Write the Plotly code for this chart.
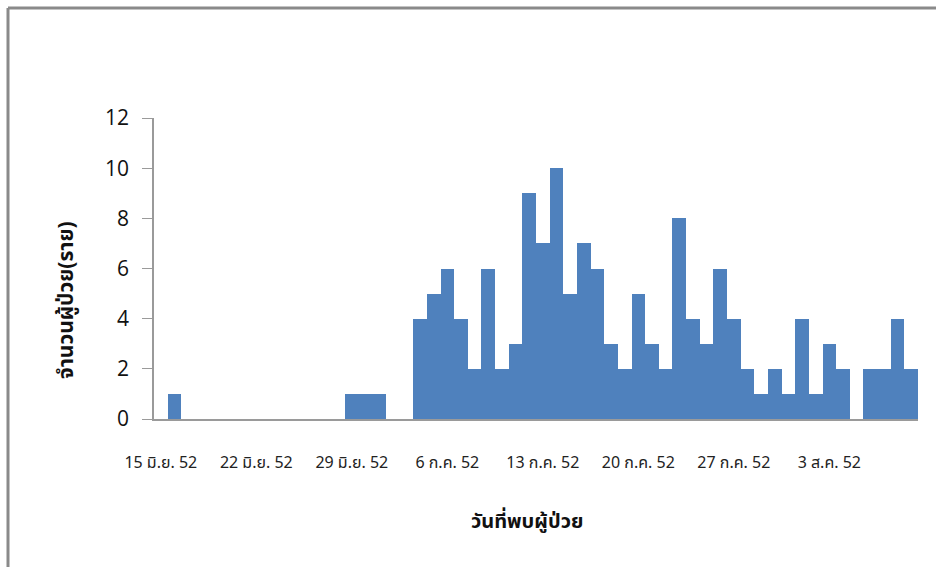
import datetime as dt
import plotly.graph_objects as go

# Daily case counts, 15 Jun 2552 (2009) to 9 Aug 2552
start_date = dt.date(2009, 6, 15)
daily_cases = [
    0, 1, 0, 0, 0, 0, 0,          # 15-21 Jun
    0, 0, 0, 0, 0, 0, 0,          # 22-28 Jun
    1, 1, 1, 0, 0, 4, 5,          # 29 Jun - 5 Jul
    6, 4, 2, 6, 2, 3, 9,          # 6-12 Jul
    7, 10, 5, 7, 6, 3, 2,         # 13-19 Jul
    5, 3, 2, 8, 4, 3, 6,          # 20-26 Jul
    4, 2, 1, 2, 1, 4, 1,          # 27 Jul - 2 Aug
    3, 2, 0, 2, 2, 4, 2,          # 3-9 Aug
]
dates = [start_date + dt.timedelta(days=i) for i in range(len(daily_cases))]

# Weekly tick labels (Thai Buddhist-era short dates)
tick_dates = [start_date + dt.timedelta(days=7 * i) for i in range(8)]
tick_labels = [
    "15 มิ.ย. 52", "22 มิ.ย. 52", "29 มิ.ย. 52", "6 ก.ค. 52",
    "13 ก.ค. 52", "20 ก.ค. 52", "27 ก.ค. 52", "3 ส.ค. 52",
]
y_ticks = [0, 2, 4, 6, 8, 10, 12]

x_title = "วันที่พบผู้ป่วย"
y_title = "จำนวนผู้ป่วย(ราย)"

BAR_COLOR = "#4F81BD"
AXIS_COLOR = "#9a9a9a"
THAI_FONT = "Noto Sans Thai, Tahoma, Noto Sans, sans-serif"

fig = go.Figure(
    go.Bar(
        x=dates,
        y=daily_cases,
        width=86400000,
        marker=dict(color=BAR_COLOR, line=dict(width=0)),
    )
)

W, H = 936, 567
L, R, T, B = 154, 18, 118, 148

fig.update_layout(
    width=W,
    height=H,
    margin=dict(l=L, r=R, t=T, b=B, pad=0),
    paper_bgcolor="white",
    plot_bgcolor="white",
    bargap=0,
    showlegend=False,
    xaxis=dict(
        type="date",
        range=[dt.datetime(2009, 6, 14, 12), dt.datetime(2009, 8, 9, 12)],
        tickmode="array",
        tickvals=tick_dates,
        ticktext=tick_labels,
        ticks="",
        showgrid=False,
        zeroline=False,
        showline=True,
        linecolor=AXIS_COLOR,
        linewidth=1.5,
        tickfont=dict(family=THAI_FONT, size=16, color="#222222"),
        ticklabelstandoff=28,
    ),
    yaxis=dict(
        range=[0, 12],
        tickmode="array",
        tickvals=y_ticks,
        ticks="outside",
        ticklen=10,
        tickcolor=AXIS_COLOR,
        showgrid=False,
        zeroline=False,
        showline=True,
        linecolor=AXIS_COLOR,
        linewidth=1.5,
        tickfont=dict(family="Open Sans, sans-serif", size=21, color="#111111"),
        ticklabelstandoff=9,
    ),
)

# Pixel -> paper coordinate helpers for annotations and the frame
pw, ph = W - L - R, H - T - B


def px(x):
    return (x - L) / pw


def py(y):
    return (H - B - y) / ph


fig.add_annotation(
    x=px(527), y=py(522), xref="paper", yref="paper",
    text=f"<b>{x_title}</b>", showarrow=False,
    font=dict(family=THAI_FONT, size=20, color="#111111"),
    xanchor="center", yanchor="middle",
)
fig.add_annotation(
    x=px(66), y=py(300), xref="paper", yref="paper",
    text=f"<b>{y_title}</b>", showarrow=False, textangle=-90,
    font=dict(family=THAI_FONT, size=21, color="#111111"),
    xanchor="center", yanchor="middle",
)

# Chart-area frame (left and top edges)
frame = dict(color="#8a8a8a", width=3)
fig.add_shape(type="line", xref="paper", yref="paper",
              x0=px(8), x1=px(8), y0=py(8), y1=py(H + 10), line=frame)
fig.add_shape(type="line", xref="paper", yref="paper",
              x0=px(8), x1=px(W + 10), y0=py(8), y1=py(8), line=frame)

fig.write_html("out.html")
